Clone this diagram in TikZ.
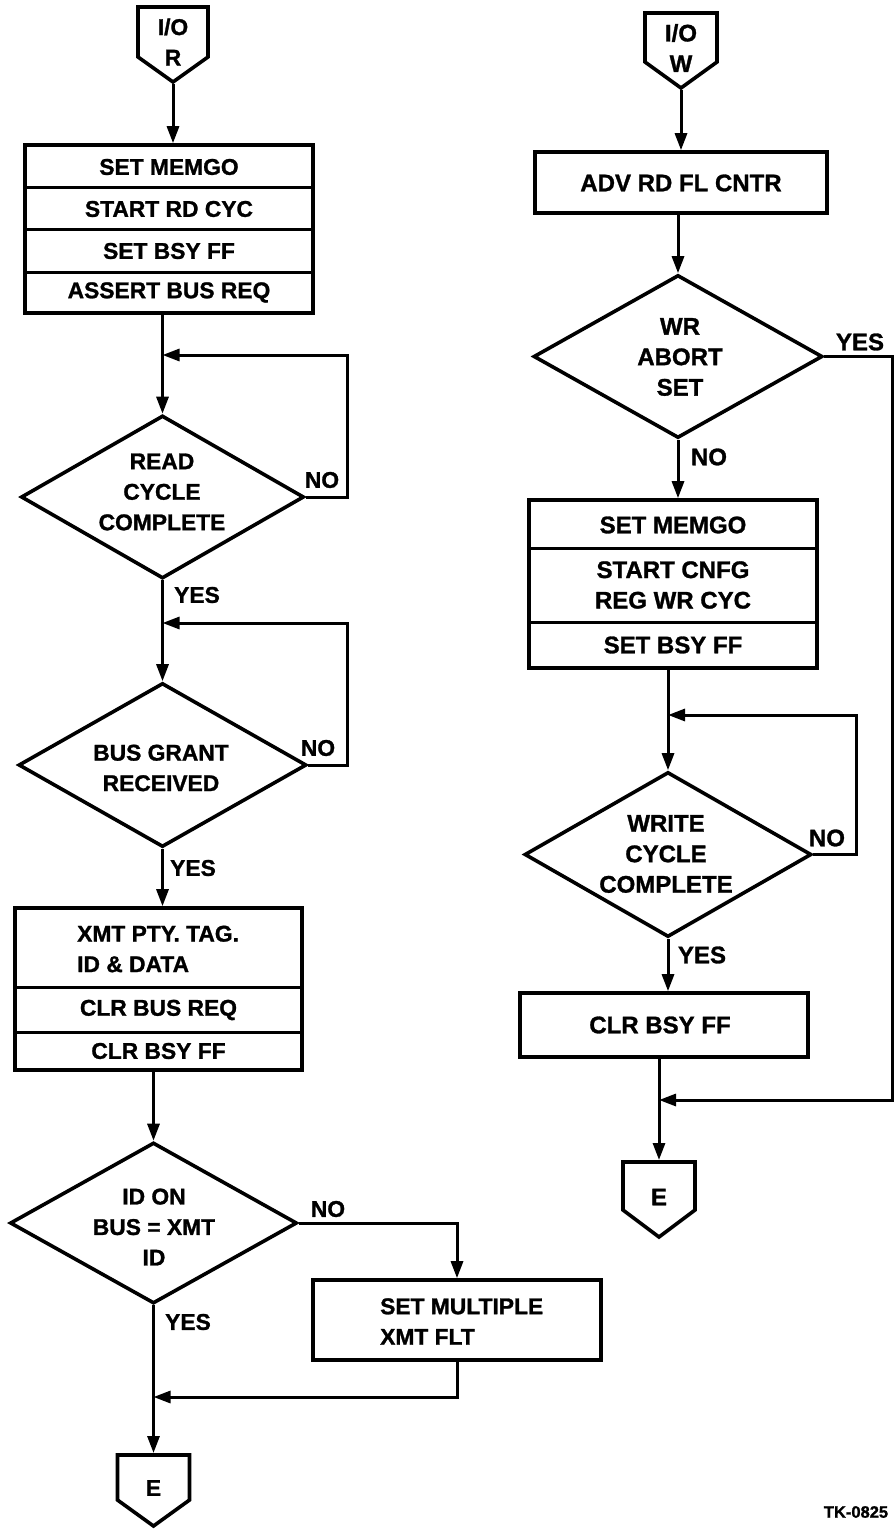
\documentclass[tikz,border=0pt]{standalone}
\usepackage{fontspec}
\setmainfont{Liberation Sans}[BoldFeatures={FakeBold=1.2}]
\usetikzlibrary{shapes.geometric,arrows.meta,calc}
\begin{document}
\begin{tikzpicture}[x=1pt,y=-1pt,
  every node/.style={inner sep=0pt},
  lfont/.style={font=\fontsize{22.8}{30.5}\selectfont\bfseries, align=center},
  rfont/.style={font=\fontsize{24}{30.5}\selectfont\bfseries, align=center},
  shp/.style={draw, line width=3.6pt},
  boxn/.style={shp, rectangle},
  dia/.style={shp, diamond},
  ln/.style={line width=3pt},
  arr/.style={line width=3pt, -{Triangle[length=17pt,width=12pt]}},
  conn/.style={line width=3.6pt, line join=miter}]
\useasboundingbox (0,0) rectangle (894,1530);

% ---------------- left column ----------------
\draw[conn] (138,7) -- (208,7) -- (208,57) -- (173,82) -- (138,57) -- cycle;
\node[lfont] (ior) at (173,42) {I/O\\R};
\coordinate (iorT) at (173,84);

\node[boxn, minimum width=288pt, minimum height=168pt] (b1) at (169,229) {};
\draw[ln] (25,188) -- (313,188);
\draw[ln] (25,230) -- (313,230);
\draw[ln] (25,272) -- (313,272);
\node[lfont] (b1a) at (169,167) {SET MEMGO};
\node[lfont] (b1b) at (169,209) {START RD CYC};
\node[lfont] (b1c) at (169,251) {SET BSY FF};
\node[lfont] (b1d) at (169,292.5) {ASSERT BUS REQ};

\node[dia, minimum width=283pt, minimum height=163pt] (d1) at (162.5,497) {};
\node[lfont] (d1t) at (162,492) {READ\\CYCLE\\COMPLETE};

\node[dia, minimum width=288pt, minimum height=164pt] (d2) at (162.5,765) {};
\node[lfont] (d2t) at (161,768) {BUS GRANT\\RECEIVED};

\node[boxn, minimum width=287pt, minimum height=162pt] (b2) at (158.5,989) {};
\draw[ln] (15,987) -- (302,987);
\draw[ln] (15,1032) -- (302,1032);
\node[lfont, align=left, anchor=west] (b2a) at (77,949) {XMT PTY. TAG.\\ID \& DATA};
\node[lfont] (b2b) at (158.5,1010) {CLR BUS REQ};
\node[lfont] (b2c) at (158.5,1051) {CLR BSY FF};

\node[dia, minimum width=287pt, minimum height=161pt] (d3) at (153.5,1223) {};
\node[lfont] (d3t) at (154,1227) {ID ON\\BUS = XMT\\ID};

\node[boxn, minimum width=288pt, minimum height=80pt] (bm) at (457,1320) {};
\node[lfont, align=left, anchor=west] (bmt) at (380,1321.5) {SET MULTIPLE\\XMT FLT};

\draw[conn] (117.5,1455) -- (189.5,1455) -- (189.5,1500) -- (153.5,1526) -- (117.5,1500) -- cycle;
\node[lfont] (e1) at (153.5,1488) {E};
\coordinate (e1T) at (153.5,1453);

\coordinate (j1) at (d1.north |- 0,355);
\coordinate (j2) at (d2.north |- 0,623);
\coordinate (j5) at (d3.south |- 0,1397);

\draw[arr] (iorT) -- (iorT |- b1.north);
\draw[arr] (d1.north |- b1.south) -- (j1) -- (d1.north);
\draw[arr] (d1.east) -- ++(42,0) |- (j1);
\draw[arr] (d1.south) -- (j2) -- (d2.north);
\draw[arr] (d2.east) -- ++(39,0) |- (j2);
\draw[arr] (d2.south) -- (d2.south |- b2.north);
\draw[arr] (d3.north |- b2.south) -- (d3.north);
\draw[arr] (d3.east) -| (bm.north);
\draw[arr] (d3.south) -- (j5) -- (e1T);
\draw[arr] (bm.south) |- (j5);

\node[lfont] (no1) at (322,480) {NO};
\node[lfont] (yes1) at (197,595) {YES};
\node[lfont] (no2) at (318,748) {NO};
\node[lfont] (yes2) at (193,868) {YES};
\node[lfont] (no3) at (328,1209) {NO};
\node[lfont] (yes3) at (188,1322) {YES};

% ---------------- right column ----------------
\draw[conn] (645,13) -- (717,13) -- (717,62) -- (681,88) -- (645,62) -- cycle;
\node[rfont] (iow) at (681,48) {I/O\\W};
\coordinate (iowT) at (681,90);

\node[boxn, minimum width=292pt, minimum height=61pt] (adv) at (681,182.5) {};
\node[rfont] (advt) at (681,183) {ADV RD FL CNTR};

\node[dia, minimum width=289pt, minimum height=163pt] (dwr) at (678,356.5) {};
\node[rfont] (dwrt) at (680,357) {WR\\ABORT\\SET};

\node[boxn, minimum width=288pt, minimum height=168pt] (b3) at (673,584) {};
\draw[ln] (529,548) -- (817,548);
\draw[ln] (529,622) -- (817,622);
\node[rfont] (b3a) at (673,525) {SET MEMGO};
\node[rfont] (b3b) at (673,585) {START CNFG\\REG WR CYC};
\node[rfont] (b3c) at (673,645) {SET BSY FF};

\node[dia, minimum width=287pt, minimum height=165pt] (d4) at (668,854.5) {};
\node[rfont] (d4t) at (666,854) {WRITE\\CYCLE\\COMPLETE};

\node[boxn, minimum width=288pt, minimum height=64pt] (clr) at (664,1025) {};
\node[rfont] (clrt) at (660,1025) {CLR BSY FF};

\draw[conn] (623,1162) -- (695,1162) -- (695,1210) -- (659,1237) -- (623,1210) -- cycle;
\node[rfont] (e2) at (659,1197) {E};
\coordinate (e2T) at (659,1160);

\coordinate (j3) at (d4.north |- 0,715);
\coordinate (j4) at (e2T |- 0,1100);
\coordinate (redge) at (892,0);

\draw[arr] (iowT) -- (iowT |- adv.north);
\draw[arr] (dwr.north |- adv.south) -- (dwr.north);
\draw[arr] (dwr.south) -- (dwr.south |- b3.north);
\draw[arr] (d4.north |- b3.south) -- (j3) -- (d4.north);
\draw[arr] (d4.east) -- ++(43,0) |- (j3);
\draw[arr] (d4.south) -- (d4.south |- clr.north);
\draw[arr] (e2T |- clr.south) -- (j4) -- (e2T);
\draw[arr] (dwr.east) -- (dwr.east -| redge) |- (j4);

\node[rfont] (yes4) at (860,342) {YES};
\node[rfont] (no4) at (709,457) {NO};
\node[rfont] (no5) at (827,838) {NO};
\node[rfont] (yes5) at (702,955) {YES};

\node[font=\fontsize{16.5}{16.5}\selectfont\bfseries] (tk) at (856,1512) {TK-0825};
\end{tikzpicture}
\end{document}
